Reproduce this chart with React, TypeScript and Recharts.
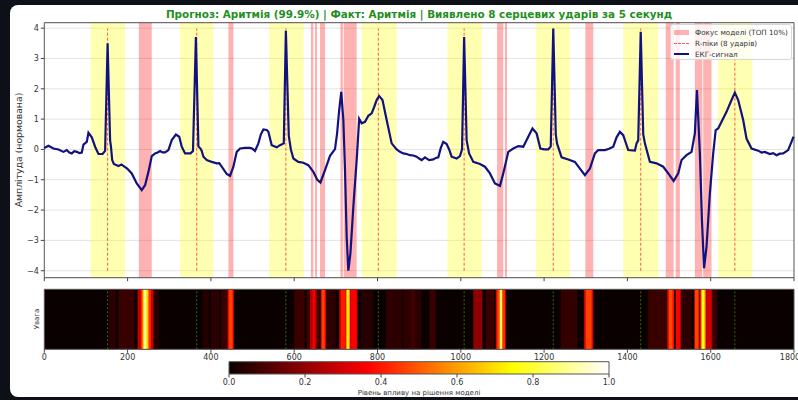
import React from 'react';
import { ComposedChart, Line, XAxis, YAxis, ReferenceArea, ReferenceLine, CartesianGrid } from 'recharts';

const titleText = 'Прогноз: Аритмія (99.9%) | Факт: Аритмія | Виявлено 8 серцевих ударів за 5 секунд';
const yLabel = 'Амплітуда (нормована)';
const heatLabel = 'Увага';
const cbarLabel = 'Рівень впливу на рішення моделі';
const legendLabels = ['Фокус моделі (ТОП 10%)', 'R-піки (8 ударів)', 'ЕКГ-сигнал'];

const sampleIdx = [
  0, 10, 22, 34, 46, 54, 60, 66, 72, 78, 84, 90, 94, 102, 106, 114, 122, 130, 140, 146, 152, 158, 160, 163, 167,
  178, 185, 190, 199, 210, 222, 234, 242, 250, 258, 266, 272, 278, 284, 290, 298, 306, 316, 324, 330, 338, 351,
  357, 364, 370, 375, 378, 382, 390, 396, 402, 414, 420, 426, 438, 446, 454, 462, 470, 482, 494, 500, 506, 514,
  520, 526, 534, 538, 546, 558, 566, 575, 580, 587, 592, 598, 610, 622, 634, 646, 655, 663, 674, 686, 698, 703,
  708, 713, 718, 722, 726, 730, 735, 742, 750, 756, 762, 770, 778, 786, 792, 798, 804, 812, 822, 834, 846, 854,
  862, 870, 878, 886, 894, 900, 906, 914, 924, 934, 940, 946, 952, 958, 966, 972, 978, 990, 998, 1003, 1008,
  1014, 1020, 1030, 1046, 1058, 1070, 1082, 1094, 1102, 1114, 1126, 1138, 1150, 1162, 1172, 1182, 1191, 1200,
  1210, 1216, 1222, 1228, 1231, 1242, 1258, 1274, 1286, 1298, 1310, 1322, 1330, 1346, 1356, 1366, 1374, 1382,
  1390, 1402, 1418, 1422, 1426, 1432, 1438, 1442, 1454, 1470, 1486, 1498, 1511, 1522, 1530, 1542, 1554, 1562,
  1567, 1574, 1579, 1584, 1590, 1598, 1606, 1612, 1618, 1626, 1638, 1650, 1658, 1666, 1678, 1686, 1698, 1714,
  1722, 1730, 1742, 1750, 1758, 1766, 1774, 1786, 1799,
];
const ecgValues = [
  0.05, 0.12, 0.03, 0.0, -0.08, -0.02, -0.1, -0.13, -0.06, -0.08, -0.12, -0.1, 0.16, 0.25, 0.55, 0.4, 0.09, -0.15, -0.15, -0.05, 3.5, 0.3, 0.1, -0.35, -0.48,
  -0.55, -0.5, -0.54, -0.63, -0.79, -1.12, -1.34, -1.18, -0.74, -0.22, -0.13, -0.1, -0.05, -0.1, -0.1, -0.02, 0.31, 0.49, 0.42, 0.09, -0.13, -0.13,
  -0.05, 3.71, 0.1, 0.03, -0.05, -0.24, -0.35, -0.38, -0.41, -0.46, -0.45, -0.57, -0.81, -0.87, -0.57, -0.08, 0.03, 0.05, 0.05, 0.02, -0.05, 0.2,
  0.5, 0.66, 0.64, 0.58, 0.14, 0.07, 0.14, 0.2, 3.91, 0.45, 0.0, -0.3, -0.41, -0.44, -0.52, -0.74, -0.99, -1.09, -0.68, -0.21, 0.01, 0.53,
  1.3, 1.9, 0.97, -0.68, -2.88, -4.0, -3.43, -1.89, -0.35, 1.01, 0.86, 0.91, 1.11, 1.19, 1.4, 1.63, 1.76, 1.63, 0.97, 0.2, 0.0, -0.08,
  -0.13, -0.15, -0.19, -0.2, -0.24, -0.3, -0.35, -0.26, -0.35, -0.33, -0.28, -0.26, 0.05, 0.25, 0.18, 0.0, -0.24, -0.3, -0.22, 0.0, 3.71,
  0.3, -0.13, -0.41, -0.48, -0.57, -0.79, -1.12, -1.2, -0.79, -0.08, 0.03, 0.11, 0.09, 0.42, 0.69, 0.53, 0.03, 0.0,
  0.0, 0.1, 3.99, 0.5, 0.2, -0.26, -0.33, -0.41, -0.63, -0.85, -0.63, -0.13, -0.02, -0.02, 0.02, 0.09, 0.4, 0.58,
  0.47, -0.02, -0.04, 0.2, 0.3, 3.88, 0.5, 0.2, -0.41, -0.46, -0.57, -0.79, -1.04, -0.79, -0.35, -0.19, -0.08, 0.53,
  1.96, -0.13, -2.33, -3.92, -3.21, -1.45, -0.13, 0.64, 0.69, 0.91, 1.24, 1.63, 1.87, 1.63, 0.97, 0.36, 0.03, -0.04,
  -0.1, -0.08, -0.15, -0.12, -0.19, -0.14, -0.13, -0.02, 0.42,
];

const rPeaks = [152, 366, 580, 802, 1008, 1222, 1432, 1658];
const rLineRange = [-4.0, 3.99];
const yellowSpans = [
  [111, 194], [326, 406], [540, 623], [762, 846], [968, 1050], [1180, 1262], [1390, 1474], [1618, 1700],
];
const focusSpans = [
  [227, 258], [442, 454], [640, 646], [650, 655], [662, 674], [711, 717], [719, 750], [1087, 1102],
  [1106, 1111], [1299, 1318], [1492, 1511], [1516, 1526], [1562, 1580], [1582, 1602],
];
// [start, end, attention]
const attentionStripes = [
  [155, 172, 0.05], [178, 216, 0.07], [262, 275, 0.04], [380, 395, 0.04], [400, 420, 0.05], [425, 440, 0.07],
  [600, 625, 0.07], [630, 660, 0.08], [676, 700, 0.05], [760, 790, 0.04], [820, 860, 0.05], [862, 905, 0.05],
  [880, 890, 0.08], [925, 940, 0.07], [1030, 1052, 0.2], [1060, 1080, 0.07], [1240, 1280, 0.06],
  [1450, 1495, 0.07], [1530, 1555, 0.05], [1605, 1615, 0.07],
  [224, 262, 0.28], [232, 256, 0.42], [236, 250, 0.68], [239, 245, 0.88],
  [440, 455, 0.33], [443, 452, 0.46],
  [638, 654, 0.25], [644, 650, 0.35], [664, 676, 0.36], [667, 673, 0.46],
  [708, 752, 0.28], [712, 722, 0.4], [724, 734, 0.58], [727, 731, 0.76], [736, 750, 0.36],
  [1084, 1108, 0.33], [1088, 1092, 0.48], [1093, 1100, 0.78], [1095, 1098, 0.88], [1101, 1106, 0.43],
  [1296, 1318, 0.32], [1300, 1314, 0.46],
  [1496, 1512, 0.38], [1500, 1508, 0.48], [1516, 1528, 0.36],
  [1560, 1604, 0.22], [1562, 1571, 0.46], [1576, 1588, 0.58], [1579, 1585, 0.76], [1590, 1602, 0.3],
];
const attentionBase = 0.0;

const yTicks = [-4, -3, -2, -1, 0, 1, 2, 3, 4];
const xTicks = [0, 200, 400, 600, 800, 1000, 1200, 1400, 1600, 1800];
const cbarTicks = [0, 0.2, 0.4, 0.6, 0.8, 1.0];

const ecgData = sampleIdx.map((x, i) => ({ x, y: ecgValues[i] }));
const heatFrame = [{ x: 0, v: 0 }, { x: 1800, v: 1 }];
const cbarFrame = [{ x: 0, v: 0 }, { x: 1, v: 1 }];

function hot(v: number) {
  const c = (t: number) => Math.min(1, Math.max(0, t));
  const r = c(0.0416 + (1 - 0.0416) * v / 0.365079);
  const g = c((v - 0.365079) / (0.746032 - 0.365079));
  const b = c((v - 0.746032) / (1 - 0.746032));
  return `rgb(${Math.round(r * 255)},${Math.round(g * 255)},${Math.round(b * 255)})`;
}

const FONT = '"DejaVu Sans", sans-serif';
const tickStyle = { fontSize: 8, fill: '#333', fontFamily: FONT };
const fmtMinus = (v: number) => (v < 0 ? '\u2212' + Math.abs(v) : String(v));

export default function App() {
  return (
    <div style={{ position: 'absolute', left: 0, top: 0, width: 798, height: 400, background: '#0d1117', overflow: 'hidden', fontFamily: FONT }}>
      <style>{`body{margin:0}`}</style>
      <svg width={0} height={0} style={{ position: 'absolute' }}>
        <defs>
          <linearGradient id="hotGrad" x1="0" y1="0" x2="1" y2="0">
            <stop offset="0" stopColor={hot(0)} />
            <stop offset="0.365079" stopColor={hot(0.365079)} />
            <stop offset="0.746032" stopColor={hot(0.746032)} />
            <stop offset="1" stopColor={hot(1)} />
          </linearGradient>
        </defs>
      </svg>
      <div style={{ position: 'absolute', left: 10, top: 5, width: 800, height: 392, background: '#fff', borderRadius: 8 }} />
      <div style={{ position: 'absolute', left: 0, top: 8, width: 838, textAlign: 'center', fontSize: 10.4, lineHeight: '12px', fontWeight: 'bold', color: '#1f8f1f', whiteSpace: 'nowrap' }}>
        {titleText}
      </div>
      <div style={{ position: 'absolute', left: 18, top: 150, width: 0, height: 0 }}>
        <div style={{ position: 'absolute', transform: 'translate(-50%,-50%) rotate(-90deg)', whiteSpace: 'nowrap', fontSize: 9.3, color: '#333' }}>{yLabel}</div>
      </div>
      <div style={{ position: 'absolute', left: 37, top: 319, width: 0, height: 0 }}>
        <div style={{ position: 'absolute', transform: 'translate(-50%,-50%) rotate(-90deg)', whiteSpace: 'nowrap', fontSize: 7, color: '#333' }}>{heatLabel}</div>
      </div>
      <div style={{ position: 'absolute', left: 0, top: 389, width: 838, textAlign: 'center', fontSize: 7, lineHeight: '9px', color: '#333', whiteSpace: 'nowrap' }}>
        {cbarLabel}
      </div>

      {/* main ECG chart */}
      <div style={{ position: 'absolute', left: 0, top: 0 }}>
        <ComposedChart width={798} height={290} data={ecgData} margin={{ top: 22.7, right: 4, bottom: 0, left: 8 }}>
          <CartesianGrid vertical={false} stroke="#b0b0b0" strokeOpacity={0.35} />
          <XAxis dataKey="x" type="number" domain={[0, 1800]} ticks={xTicks} height={12.3} tickSize={3.5} axisLine={false} tickLine={{ stroke: '#444' }} tickFormatter={() => ''} />
          <YAxis type="number" domain={[-4.23, 4.18]} ticks={yTicks} width={36.3} tickSize={3.5} axisLine={false} tickLine={{ stroke: '#444' }} tick={tickStyle} tickFormatter={fmtMinus} />
          {yellowSpans.map(([a, b], i) => (
            <ReferenceArea key={'y' + i} x1={a} x2={b} fill="#ffff00" fillOpacity={0.3} stroke="none" />
          ))}
          {focusSpans.map(([a, b], i) => (
            <ReferenceArea key={'r' + i} x1={a} x2={b} fill="#ff0000" fillOpacity={0.3} stroke="none" />
          ))}
          {rPeaks.map((r) => (
            <ReferenceLine key={'l' + r} segment={[{ x: r, y: rLineRange[0] }, { x: r, y: rLineRange[1] }]} stroke="#ff0000" strokeOpacity={0.65} strokeWidth={1} strokeDasharray="3 2" />
          ))}
          <Line type="linear" dataKey="y" stroke="#12127f" strokeWidth={2.2} dot={false} isAnimationActive={false} />
          <ReferenceArea x1={0} x2={1800} fill="none" stroke="#555" strokeWidth={1} />
        </ComposedChart>
      </div>

      {/* legend */}
      <div style={{ position: 'absolute', left: 670, top: 24, width: 122, height: 36, background: 'rgba(255,255,255,0.8)', border: '1px solid #d8d8d8', borderRadius: 3, boxSizing: 'border-box', fontSize: 7.2, color: '#333' }}>
        <div style={{ position: 'absolute', left: 3, top: 5, width: 15, height: 5, background: 'rgba(255,0,0,0.3)' }} />
        <div style={{ position: 'absolute', left: 3, top: 18, width: 15, height: 0, borderTop: '1px dashed rgba(255,0,0,0.65)' }} />
        <div style={{ position: 'absolute', left: 3, top: 28, width: 15, height: 2, background: '#12127f' }} />
        <div style={{ position: 'absolute', left: 24, top: 3, whiteSpace: 'nowrap', lineHeight: '9px' }}>{legendLabels[0]}</div>
        <div style={{ position: 'absolute', left: 24, top: 14, whiteSpace: 'nowrap', lineHeight: '9px' }}>{legendLabels[1]}</div>
        <div style={{ position: 'absolute', left: 24, top: 24.5, whiteSpace: 'nowrap', lineHeight: '9px' }}>{legendLabels[2]}</div>
      </div>

      {/* attention heatmap */}
      <div style={{ position: 'absolute', left: 0, top: 280 }}>
        <ComposedChart width={798} height={90} data={heatFrame} margin={{ top: 9.3, right: 4, bottom: 0, left: 8 }}>
          <XAxis dataKey="x" type="number" domain={[0, 1800]} ticks={xTicks} height={20.7} tickSize={3.5} axisLine={false} tickLine={{ stroke: '#444' }} tick={tickStyle} />
          <YAxis type="number" domain={[0, 1]} width={36.3} tick={false} tickLine={false} axisLine={false} />
          <ReferenceArea x1={0} x2={1800} y1={0} y2={1} fill={hot(attentionBase)} fillOpacity={1} stroke="none" />
          {attentionStripes.map(([a, b, v], i) => (
            <ReferenceArea key={'h' + i} x1={a} x2={b} y1={0} y2={1} fill={hot(v)} fillOpacity={1} stroke="none" />
          ))}
          {rPeaks.map((r) => (
            <ReferenceLine key={'g' + r} x={r} stroke="#2f8a22" strokeOpacity={0.8} strokeWidth={1} strokeDasharray="2 2" />
          ))}
          <Line type="linear" dataKey="v" stroke="none" dot={false} activeDot={false} isAnimationActive={false} />
          <ReferenceArea x1={0} x2={1800} y1={0} y2={1} fill="none" stroke="#555" strokeWidth={1} />
        </ComposedChart>
      </div>

      {/* colorbar */}
      <div style={{ position: 'absolute', left: 0, top: 355 }}>
        <ComposedChart width={798} height={45} data={cbarFrame} margin={{ top: 6.7, right: 189, bottom: 0, left: 229 }}>
          <XAxis dataKey="x" type="number" domain={[0, 1]} ticks={cbarTicks} height={26} tickSize={3.5} axisLine={false} tickLine={{ stroke: '#444' }} tick={tickStyle} tickFormatter={(v: number) => v.toFixed(1)} />
          <YAxis type="number" domain={[0, 1]} width={0} tick={false} tickLine={false} axisLine={false} />
          <Line type="linear" dataKey="v" stroke="none" dot={false} activeDot={false} isAnimationActive={false} />
          <ReferenceArea x1={0} x2={1} y1={0} y2={1} fill="url(#hotGrad)" fillOpacity={1} stroke="#555" strokeWidth={1} />
        </ComposedChart>
      </div>
    </div>
  );
}
